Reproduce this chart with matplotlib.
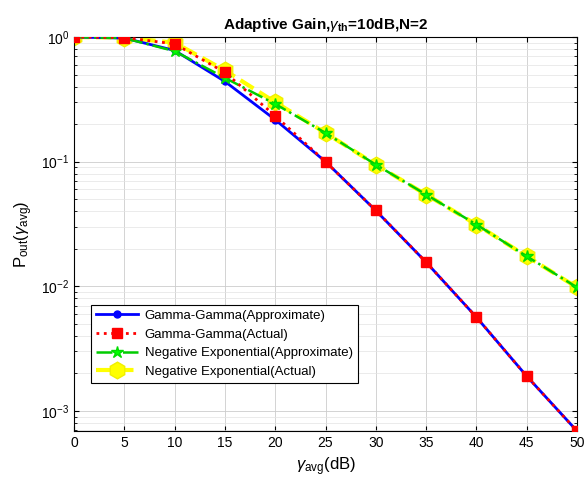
import matplotlib
matplotlib.use('Agg')
import matplotlib.pyplot as plt
import numpy as np

plt.rcParams['font.family'] = ['Liberation Sans', 'DejaVu Sans']
plt.rcParams['mathtext.fontset'] = 'custom'
plt.rcParams['mathtext.rm'] = 'Liberation Sans'
plt.rcParams['mathtext.it'] = 'Liberation Sans:italic'
plt.rcParams['mathtext.bf'] = 'Liberation Sans:bold'

# dados
snr = [0, 5, 10, 15, 20, 25, 30, 35, 40, 45, 50]
gg_approx = [1.0, 0.98, 0.78, 0.44, 0.217, 0.1, 0.0405, 0.0156, 0.00565, 0.0019, 0.00069]
gg_actual = [1.0, 0.99, 0.88, 0.52, 0.233, 0.1, 0.0406, 0.0156, 0.00565, 0.0019, 0.00069]
ne_approx = [1.0, 0.98, 0.77, 0.47, 0.29, 0.17, 0.0946, 0.0544, 0.0313, 0.0174, 0.0098]
ne_actual = [1.0, 0.99, 0.9, 0.54, 0.30, 0.17, 0.0946, 0.0544, 0.0313, 0.0174, 0.0098]

labels = ['Gamma-Gamma(Approximate)', 'Gamma-Gamma(Actual)',
          'Negative Exponential(Approximate)', 'Negative Exponential(Actual)']

fig = plt.figure(figsize=(5.87, 4.87), dpi=100)
ax = fig.add_axes([74/587, 1-431/487, 503/587, 394/487])

ax.semilogy(snr, gg_approx, '-', color='#0000ff', lw=2, marker='o', ms=5, mfc='#0000ff', label=labels[0], zorder=3)
ax.semilogy(snr, gg_actual, ':', color='#ff0000', lw=2, marker='s', ms=6.5, mfc='#ff0000', label=labels[1], zorder=4)
ax.semilogy(snr, ne_approx, '-.', color='#00cc00', lw=1.8, marker='*', ms=9, mfc='#00ff00', mec='#00dd00', label=labels[2], zorder=3)
ax.semilogy(snr, ne_actual, '--', color='#ffff00', lw=3, marker='h', ms=12, mfc='#ffff00', mec='#f0f000', label=labels[3], zorder=2)

ax.set_xlim(0, 50)
ax.set_ylim(min(gg_actual), 1)
ax.set_xticks(np.arange(0, 51, 5))
ax.tick_params(which='both', direction='in', top=True, right=True, labelsize=10)
ax.grid(which='major', color='#cccccc', lw=0.6)
ax.grid(which='minor', color='#e3e3e3', lw=0.5)

ax.set_title(r'Adaptive Gain,$\gamma_{\mathbf{th}}$=10dB,N=2', fontsize=11, fontweight='bold')
ax.set_xlabel(r'$\gamma_{\mathrm{avg}}$(dB)', fontsize=12)
ax.set_ylabel(r'P$_{\mathrm{out}}$($\gamma_{\mathrm{avg}}$)', fontsize=12)

leg = ax.legend(loc='lower left', bbox_to_anchor=(0.02, 0.105), fontsize=9.5,
                fancybox=False, edgecolor='black', framealpha=1, handlelength=3.2,
                borderpad=0.4, labelspacing=0.48, handletextpad=0.5)
leg.get_frame().set_linewidth(0.8)

fig.savefig('out.png', dpi=100)
